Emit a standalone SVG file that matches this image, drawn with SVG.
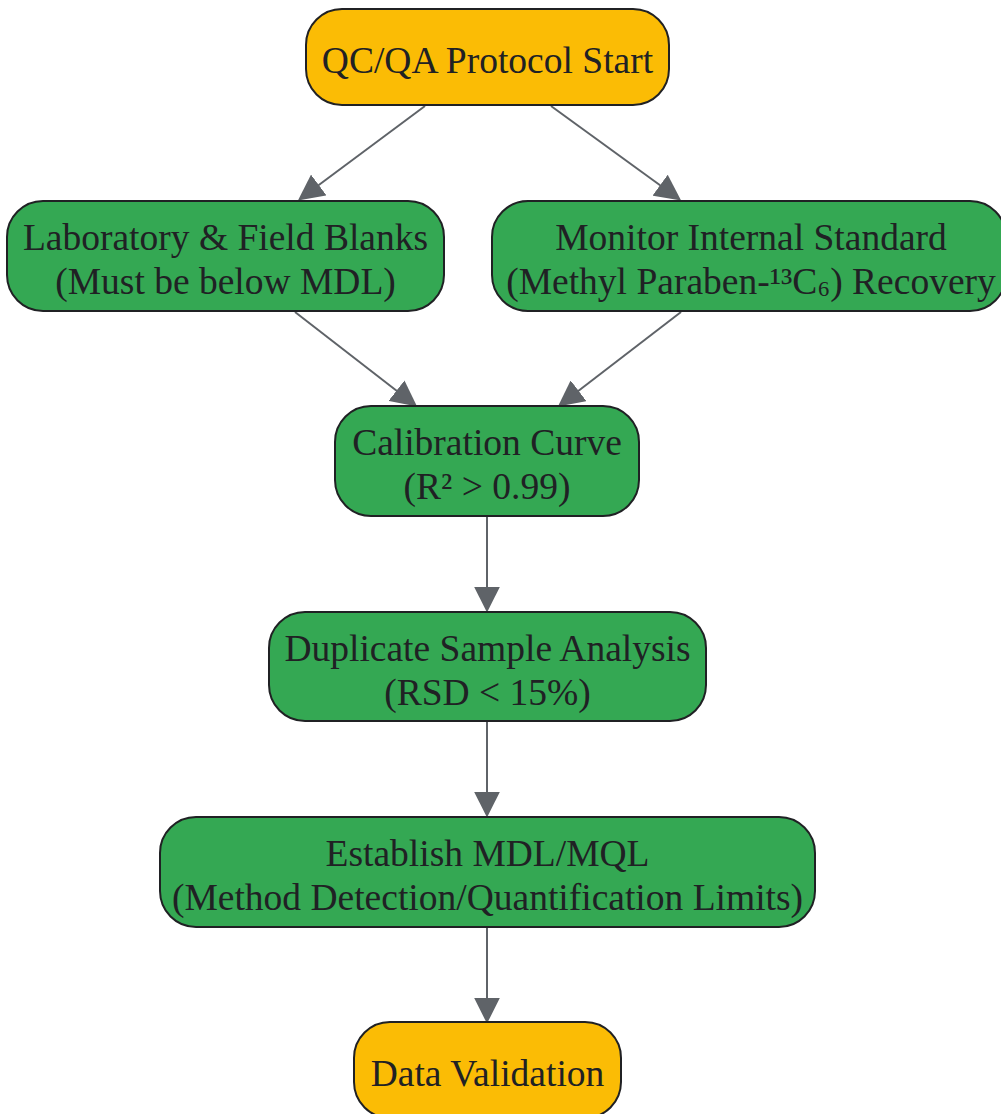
<svg xmlns="http://www.w3.org/2000/svg" width="1001" height="1114" viewBox="0 0 1001 1114">
<defs>
<style>
.node rect{stroke:#202124;stroke-width:2}
.y rect{fill:#FBBC05}
.g rect{fill:#34A853}
text{font-family:"Liberation Serif","Times New Roman",serif;font-size:37.5px;fill:#202124;text-anchor:middle}
.edge{stroke:#5f6368;stroke-width:2;fill:none;marker-end:url(#arr)}
</style>
<marker id="arr" viewBox="0 0 10 10" refX="9" refY="5" markerWidth="26" markerHeight="26" markerUnits="userSpaceOnUse" orient="auto">
<path d="M0,0 L10,5 L0,10 z" fill="#5f6368"/>
</marker>
</defs>
<g id="edges">
<path class="edge" d="M425,106 L300,199"/>
<path class="edge" d="M551,106 L679,199"/>
<path class="edge" d="M295,312 L415,405"/>
<path class="edge" d="M681,312 L560,405"/>
<path class="edge" d="M487,517 L487,610"/>
<path class="edge" d="M487,722 L487,815"/>
<path class="edge" d="M487,928 L487,1021"/>
</g>
<g id="start" class="node y">
<rect x="306" y="9" width="363" height="96" rx="36"/>
<text x="487.5" y="73">QC/QA Protocol Start</text>
</g>
<g id="blanks" class="node g">
<rect x="7" y="201" width="437" height="110" rx="36"/>
<text x="225.5" y="250">Laboratory &amp; Field Blanks</text>
<text x="225.5" y="294">(Must be below MDL)</text>
</g>
<g id="istd" class="node g">
<rect x="492" y="201" width="514" height="110" rx="36"/>
<text x="751" y="250">Monitor Internal Standard</text>
<text x="751" y="294">(Methyl Paraben-¹³C<tspan dy="-5">₆</tspan><tspan dy="5">) Recovery</tspan></text>
</g>
<g id="calib" class="node g">
<rect x="335" y="406" width="304" height="110" rx="36"/>
<text x="487" y="455">Calibration Curve</text>
<text x="487" y="499">(R² &gt; 0.99)</text>
</g>
<g id="dup" class="node g">
<rect x="269" y="612" width="437" height="109" rx="36"/>
<text x="487.5" y="661">Duplicate Sample Analysis</text>
<text x="487.5" y="705">(RSD &lt; 15%)</text>
</g>
<g id="mdl" class="node g">
<rect x="160" y="817" width="655" height="110" rx="36"/>
<text x="487.5" y="866">Establish MDL/MQL</text>
<text x="487.5" y="910">(Method Detection/Quantification Limits)</text>
</g>
<g id="valid" class="node y">
<rect x="354" y="1022" width="267" height="96" rx="36"/>
<text x="487.5" y="1086">Data Validation</text>
</g>
</svg>
